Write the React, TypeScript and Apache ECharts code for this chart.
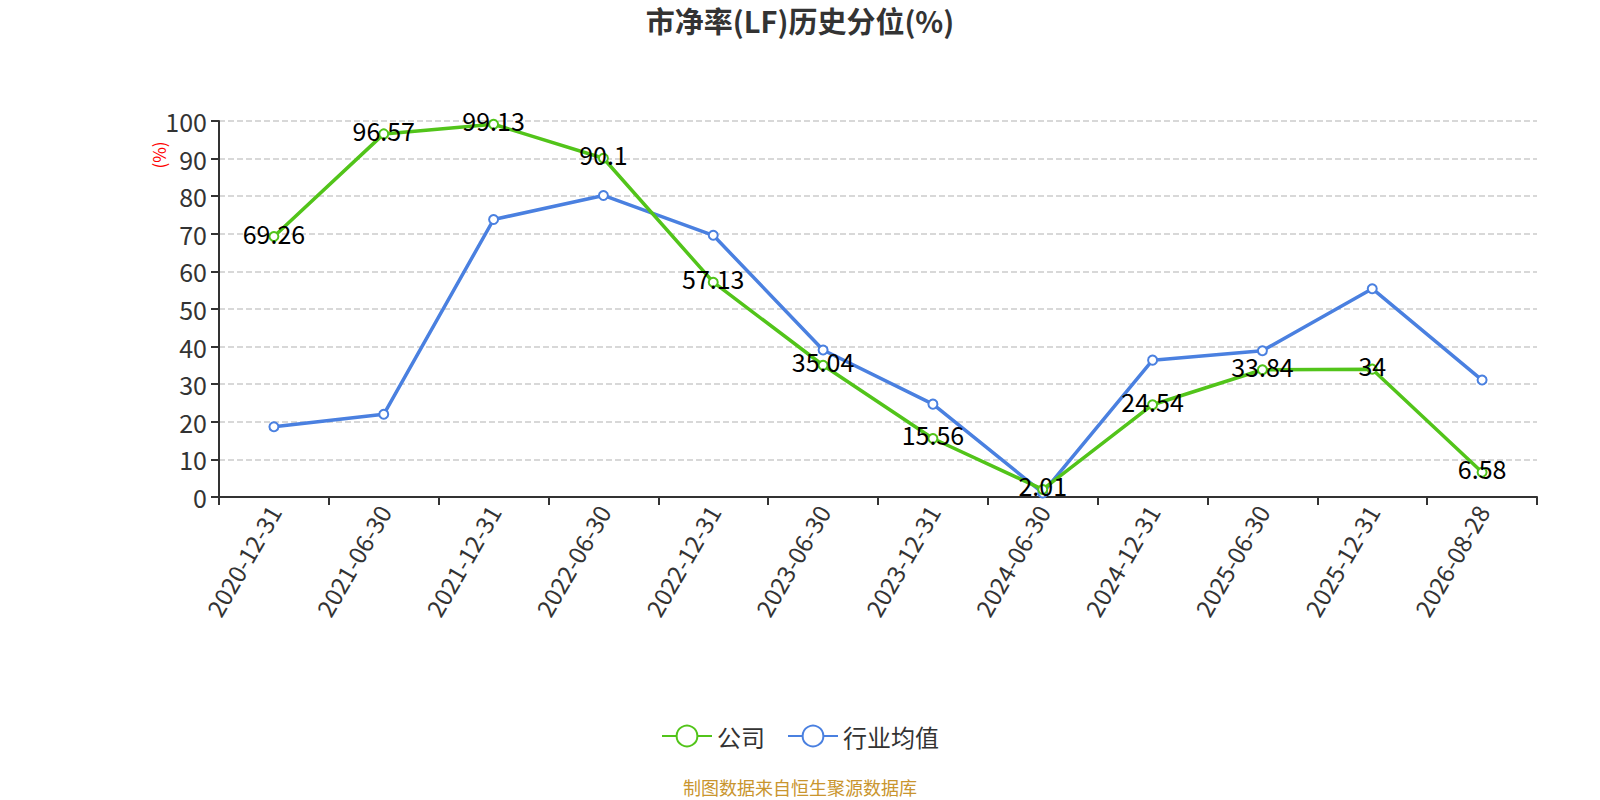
import React, { useEffect, useRef } from "react";
import * as echarts from "echarts";

const categories = [
  "2020-12-31", "2021-06-30", "2021-12-31", "2022-06-30", "2022-12-31", "2023-06-30",
  "2023-12-31", "2024-06-30", "2024-12-31", "2025-06-30", "2025-12-31", "2026-08-28",
];
const companyValues = [69.26, 96.57, 99.13, 90.1, 57.13, 35.04, 15.56, 2.01, 24.54, 33.84, 34, 6.58];
const industryValues = [18.7, 22.0, 73.8, 80.2, 69.6, 39.1, 24.7, 1.1, 36.4, 38.9, 55.4, 31.1];
const yTicks = { min: 0, max: 100, interval: 10 };

const FONT = "'Noto Sans CJK SC', 'Noto Sans', sans-serif";
const GREEN = "#52C41A";
const BLUE = "#4A80E0";

export default function App() {
  const ref = useRef<HTMLDivElement>(null);
  useEffect(() => {
    if (!ref.current) return;
    const chart = echarts.init(ref.current, undefined, { renderer: "svg" });
    chart.setOption({
      animation: false,
      textStyle: { fontFamily: FONT },
      title: {
        text: "市净率(LF)历史分位(%)",
        left: "center",
        top: 0,
        textStyle: { fontSize: 29, fontWeight: "bold", color: "#333", fontFamily: FONT },
      },
      grid: { left: 219, right: 63, top: 121, bottom: 303, containLabel: false },
      legend: {
        data: ["公司", "行业均值"],
        left: "center",
        top: 719,
        itemWidth: 50,
        itemHeight: 26,
        itemGap: 22,
        textStyle: { fontSize: 24, color: "#333", fontFamily: FONT },
      },
      xAxis: {
        type: "category",
        data: categories,
        boundaryGap: true,
        axisLine: { lineStyle: { color: "#333", width: 2 } },
        axisTick: { show: true, length: 8, lineStyle: { color: "#333", width: 2 } },
        axisLabel: { rotate: 60, fontSize: 24, color: "#333", margin: 10, fontFamily: FONT },
      },
      yAxis: {
        type: "value",
        min: yTicks.min,
        max: yTicks.max,
        interval: yTicks.interval,
        axisLine: { show: true, lineStyle: { color: "#333", width: 2 } },
        axisTick: { show: true, length: 8, lineStyle: { color: "#333", width: 2 } },
        axisLabel: { fontSize: 25, color: "#333", margin: 12, fontFamily: FONT },
        splitLine: { show: true, lineStyle: { color: "#ccc", type: "dashed", width: 1.5 } },
      },
      graphic: [
        {
          type: "text",
          x: 158,
          y: 155,
          rotation: Math.PI / 2,
          style: {
            text: "(%)",
            fill: "#ff0000",
            fontSize: 17,
            fontFamily: FONT,
            align: "center",
            verticalAlign: "middle",
          },
        },
        {
          type: "text",
          x: 800,
          y: 787,
          style: {
            text: "制图数据来自恒生聚源数据库",
            fill: "#C9952E",
            fontSize: 18,
            fontFamily: FONT,
            align: "center",
            verticalAlign: "middle",
          },
        },
      ],
      series: [
        {
          name: "公司",
          type: "line",
          data: companyValues,
          symbol: "emptyCircle",
          symbolSize: 9,
          lineStyle: { color: GREEN, width: 3.5 },
          itemStyle: { color: GREEN },
          label: {
            show: true,
            position: "inside",
            offset: [0, -4],
            color: "#000",
            fontSize: 25,
            fontFamily: FONT,
          },
          z: 3,
        },
        {
          name: "行业均值",
          type: "line",
          data: industryValues,
          symbol: "emptyCircle",
          symbolSize: 9,
          lineStyle: { color: BLUE, width: 3.5 },
          itemStyle: { color: BLUE },
          label: { show: false },
          z: 2,
        },
      ],
    });
    return () => chart.dispose();
  }, []);
  return (
    <div
      ref={ref}
      style={{ position: "absolute", left: 0, top: 0, width: 1600, height: 800 }}
    />
  );
}
